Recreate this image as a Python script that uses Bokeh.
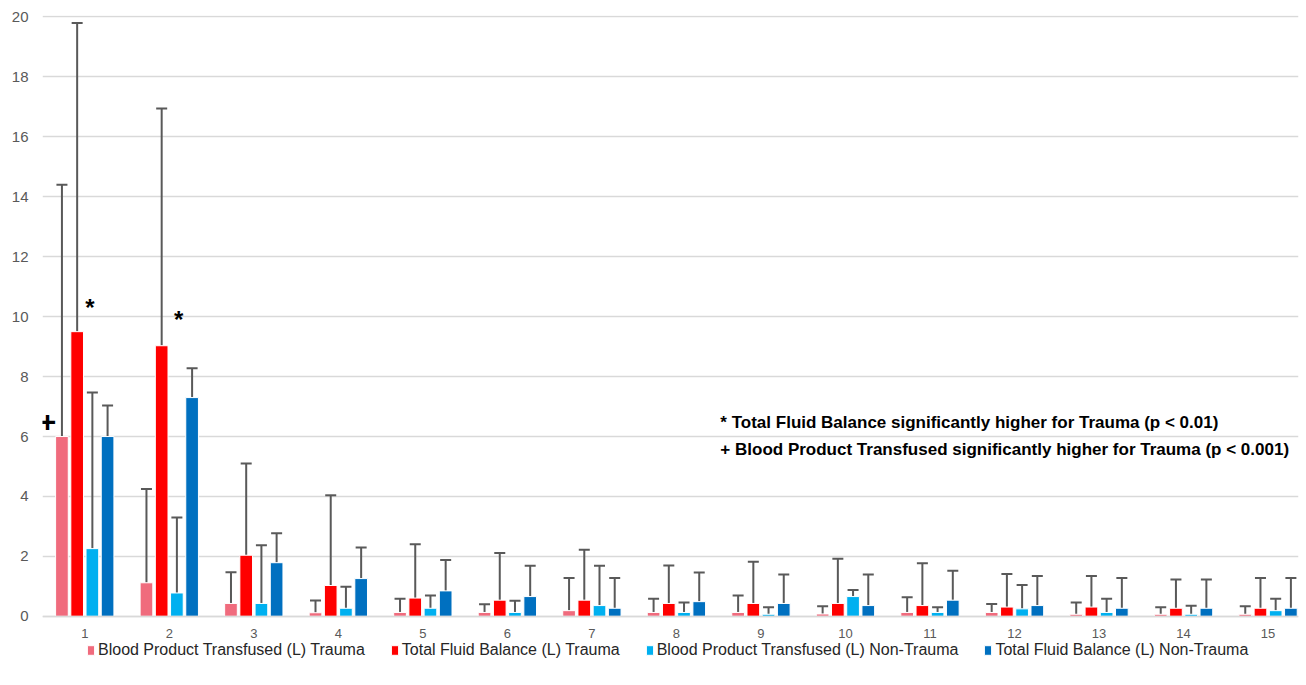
from bokeh.plotting import figure
from bokeh.models import (ColumnDataSource, Whisker, TeeHead, Legend, LegendItem,
                          FixedTicker, Range1d, Label)
from bokeh.embed import file_html
from bokeh.resources import INLINE

# ---------------- data ----------------
days = list(range(1, 16))
day_labels = [str(d) for d in days]

blood_trauma = [6.0, 1.12, 0.43, 0.12, 0.13, 0.13, 0.19, 0.13, 0.13, 0.08, 0.13, 0.13, 0.07, 0.07, 0.07]
blood_trauma_sd = [8.4, 3.13, 1.04, 0.41, 0.46, 0.27, 1.09, 0.46, 0.57, 0.26, 0.51, 0.28, 0.39, 0.23, 0.27]

fluid_trauma = [9.5, 9.03, 2.04, 1.03, 0.61, 0.54, 0.54, 0.43, 0.43, 0.43, 0.36, 0.31, 0.31, 0.27, 0.27]
fluid_trauma_sd = [10.3, 7.92, 3.06, 3.01, 1.80, 1.57, 1.68, 1.27, 1.39, 1.49, 1.41, 1.10, 1.04, 0.96, 1.01]

blood_nontrauma = [2.26, 0.78, 0.43, 0.27, 0.27, 0.13, 0.36, 0.13, 0.07, 0.66, 0.13, 0.25, 0.13, 0.07, 0.19]
blood_nontrauma_sd = [5.21, 2.52, 1.94, 0.72, 0.43, 0.39, 1.33, 0.33, 0.23, 0.22, 0.17, 0.80, 0.46, 0.28, 0.40]

fluid_nontrauma = [6.0, 7.3, 1.79, 1.26, 0.85, 0.66, 0.27, 0.49, 0.43, 0.36, 0.54, 0.36, 0.27, 0.27, 0.27]
fluid_nontrauma_sd = [1.04, 0.98, 0.98, 1.04, 1.03, 1.03, 1.01, 0.97, 0.97, 1.04, 0.98, 0.99, 1.01, 0.96, 1.01]

series_names = ["Blood Product Transfused (L) Trauma",
                "Total Fluid Balance (L) Trauma",
                "Blood Product Transfused (L) Non-Trauma",
                "Total Fluid Balance (L) Non-Trauma"]
series_means = [blood_trauma, fluid_trauma, blood_nontrauma, fluid_nontrauma]
series_sds = [blood_trauma_sd, fluid_trauma_sd, blood_nontrauma_sd, fluid_nontrauma_sd]
colors = ["#F06B7D", "#FF0000", "#00B0F0", "#0070C0"]
offsets = [-0.27, -0.09, 0.09, 0.27]
bar_width = 0.15

note1 = "* Total Fluid Balance significantly higher for Trauma  (p < 0.01)"
note2 = "+ Blood Product Transfused significantly higher for Trauma (p  < 0.001)"

# ---------------- figure ----------------
p = figure(width=1300, height=672, x_range=Range1d(0.5, 15.36), y_range=Range1d(-1.64, 20.05),
           output_backend="svg", toolbar_location=None,
           min_border_left=42, min_border_right=2, min_border_top=15, min_border_bottom=7)
p.outline_line_color = None
p.background_fill_color = "white"

p.xgrid.grid_line_color = None
p.ygrid.grid_line_color = "#D9D9D9"
p.ygrid.grid_line_width = 1.5
p.yaxis.ticker = FixedTicker(ticks=list(range(0, 21, 2)))
p.xaxis.ticker = FixedTicker(ticks=days)
p.xaxis.major_label_overrides = {d: s for d, s in zip(days, day_labels)}
p.xaxis.fixed_location = 0

for ax in (p.xaxis[0], p.yaxis[0]):
    ax.major_tick_line_color = None
    ax.minor_tick_line_color = None
    ax.major_label_text_color = "#595959"
    ax.major_label_text_font = "Liberation Sans"
p.yaxis.axis_line_color = None
p.yaxis.major_label_text_font_size = "15px"
p.yaxis.major_label_standoff = 8
p.xaxis.axis_line_color = "#D9D9D9"
p.xaxis.axis_line_width = 1.5
p.xaxis.major_label_text_font_size = "13px"
p.xaxis.major_label_standoff = 7

items = []
for name, means, sds, col, off in zip(series_names, series_means, series_sds, colors, offsets):
    src = ColumnDataSource(dict(
        x=[d + off for d in days],
        top=means,
        upper=[m + s for m, s in zip(means, sds)],
    ))
    r = p.vbar(x="x", top="top", width=bar_width, bottom=0, source=src,
               fill_color=col, line_color="white", line_width=1)
    w = Whisker(base="x", lower="top", upper="upper", source=src,
                line_color="#595959", line_width=2,
                upper_head=TeeHead(size=11, line_color="#595959", line_width=2),
                lower_head=None)
    p.add_layout(w)
    items.append(LegendItem(label=name, renderers=[r]))

legend = Legend(items=items, orientation="horizontal", location=(44, 6),
                label_text_font="Liberation Sans", label_text_font_size="16px",
                label_text_color="#262626", glyph_width=9, glyph_height=12,
                label_standoff=3, spacing=25, padding=0, margin=0,
                border_line_color=None, background_fill_alpha=0)
p.add_layout(legend, "center")

# annotations
p.add_layout(Label(x=0.56, y=6.5, text="+", text_font_size="30px", text_font_style="bold",
                   text_align="center", text_baseline="middle", text_color="black",
                   text_font="Liberation Sans"))
p.add_layout(Label(x=1.06, y=10.3, text="*", text_font_size="24px", text_font_style="bold",
                   text_align="center", text_baseline="middle", text_color="black",
                   text_font="Liberation Sans"))
p.add_layout(Label(x=2.11, y=9.9, text="*", text_font_size="24px", text_font_style="bold",
                   text_align="center", text_baseline="middle", text_color="black",
                   text_font="Liberation Sans"))
p.add_layout(Label(x=8.52, y=6.48, text=note1, text_font_size="17px", text_font_style="bold",
                   text_align="left", text_baseline="middle", text_color="black",
                   text_font="Liberation Sans"))
p.add_layout(Label(x=8.52, y=5.58, text=note2, text_font_size="17px", text_font_style="bold",
                   text_align="left", text_baseline="middle", text_color="black",
                   text_font="Liberation Sans"))

open("out.html", "w").write(file_html(p, INLINE))
